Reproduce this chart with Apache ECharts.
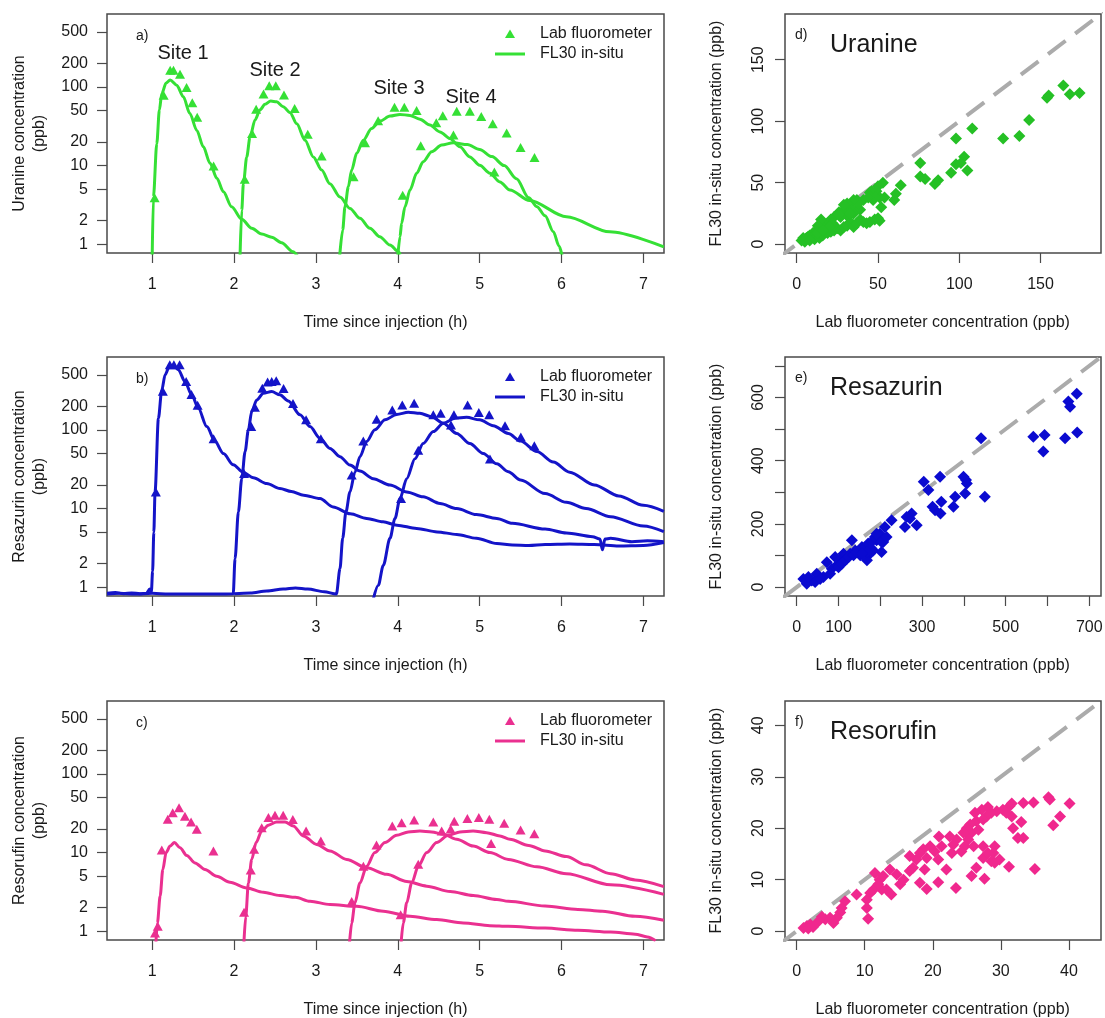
<!DOCTYPE html>
<html><head><meta charset="utf-8">
<script src="https://cdn.jsdelivr.net/npm/echarts/dist/echarts.min.js"></script>
<style>html,body{margin:0;padding:0;background:#fff}#chart{width:1105px;height:1018px}</style>
</head><body><div id="chart"></div>
<script>
const FONT = '"Liberation Sans", Arial, Helvetica, sans-serif';

// ---------- tick values ----------
const timeTicks = [1, 2, 3, 4, 5, 6, 7];
const concTicks = [1, 2, 5, 10, 20, 50, 100, 200, 500];
const dTicks = [0, 50, 100, 150];
const eTicks = [0, 100, 200, 300, 400, 500, 600, 700];
const eXLabels = [0, 100, 300, 500, 700];
const eYLabels = [0, 200, 400, 600];
const fTicks = [0, 10, 20, 30, 40];

// ---------- panel a: Uranine (time h, ppb) ----------
const uranineLab = [[1.03,3.9],[1.14,78],[1.22,163],[1.26,163],[1.34,145],[1.42,98],[1.49,63],[1.55,41],[1.75,9.9],
  [2.13,6.7],[2.22,25.6],[2.27,52],[2.36,81],[2.43,103],[2.51,103],[2.61,79],[2.74,53],[2.90,25],[3.07,13.2],
  [3.46,7.2],[3.60,19.5],[3.76,37],[3.96,55],[4.08,55],[4.23,50],[4.28,17.8],[4.47,35],[4.68,24.4],[5.18,8.3],
  [4.06,4.2],[4.55,43],[4.72,49],[4.88,49],[5.02,42],[5.16,34],[5.33,26],[5.50,17],[5.67,12.7]];
const uranineSite1 = [[1.0,0.7],[1.015,4.0],[1.056,19],[1.088,51],[1.117,82],[1.17,112],[1.219,122],[1.30,105],[1.38,75],[1.46,46],
  [1.545,28],[1.625,17.3],[1.707,10.7],[1.79,6.9],[1.87,4.65],[1.97,3.0],[2.094,2.08],[2.216,1.6],[2.338,1.35],[2.46,1.23],
  [2.58,1.05],[2.72,0.805],[2.78,0.7]];
const uranineSite2 = [[2.073,0.7],[2.094,2.7],[2.114,5.9],[2.155,12.9],[2.195,23],[2.256,38],[2.317,51],[2.378,60],[2.448,66],
  [2.52,64.5],[2.60,56],[2.684,47],[2.766,34],[2.867,21],[2.968,12.9],[3.07,8.8],[3.17,5.9],[3.294,4.0],[3.416,2.86],
  [3.538,2.14],[3.66,1.6],[3.78,1.25],[3.905,0.98],[4.006,0.81],[4.03,0.74]];
const uranineSite3 = [[3.29,0.7],[3.327,1.52],[3.355,3.0],[3.396,5.4],[3.437,8.8],[3.498,14.3],[3.579,21],[3.68,29.6],[3.783,36.7],
  [3.905,42.5],[4.027,44.7],[4.149,43.4],[4.27,38.9],[4.393,32.7],[4.515,26.8],[4.637,22.1],[4.759,17.3],[4.88,12.9],
  [5.0,10.1],[5.126,8.0],[5.248,6.2],[5.37,4.9],[5.61,3.6],[6.06,2.24],[6.59,1.44],[7.25,0.93]];
const uranineSite4 = [[4.0,0.7],[4.027,1.25],[4.047,1.85],[4.088,3.0],[4.149,4.9],[4.231,8.0],[4.31,11.2],[4.414,15],[4.536,18.2],
  [4.678,19.5],[4.85,18.5],[5.0,16],[5.15,13],[5.3,10],[5.45,6.8],[5.6,3.9],[5.7,3.0],[5.8,2.3],[5.9,1.45],[5.97,0.95],[6.01,0.7]];

// ---------- panel b: Resazurin ----------
const resazurinLab = [[1.045,16.2],[1.13,308],[1.215,673],[1.265,673],[1.335,673],[1.415,410],[1.48,282],[1.555,206],[1.75,77],
  [2.122,28],[2.21,110],[2.255,193],[2.345,338],[2.41,404],[2.46,411],[2.515,421],[2.605,335],[2.72,216],[2.88,134],[3.06,77],
  [3.437,26.7],[3.579,72],[3.742,136],[3.933,179],[4.055,207],[4.20,217],[4.434,155],[4.524,162],[4.686,155],[4.65,115],
  [4.853,207],[4.99,166],[5.117,155],[5.31,113],[5.126,42.6],[4.25,55],[4.04,13.4],[5.503,81],[5.668,63]];
const resazurinSite1 = [[0.45,0.84],[0.55,0.86],[0.65,0.83],[0.75,0.85],[0.85,0.83],[0.93,0.84],[0.97,0.95],[0.99,0.88],
  [1.005,1.6],[1.02,5],[1.035,16.3],[1.076,140],[1.117,320],[1.158,500],[1.21,640],[1.26,655],[1.32,580],[1.40,410],
  [1.483,278],[1.564,188],[1.667,110],[1.768,71],[1.87,50],[1.99,36],[2.114,28.8],[2.236,24.6],[2.40,20.8],[2.56,18],
  [2.7,16.5],[2.85,14.8],[3.05,13.4],[3.21,10.5],[3.42,8.6],[3.62,7.5],[3.82,6.8],[3.99,6.15],[4.23,5.6],[4.48,5.06],
  [4.72,4.7],[4.96,4.2],[5.21,3.6],[5.4,3.45],[5.6,3.4],[5.8,3.5],[6.1,3.55],[6.4,3.5],[6.7,3.35],[7.0,3.4],[7.25,3.7]];
const resazurinSite2 = [[0.45,0.82],[0.6,0.84],[0.8,0.82],[1.0,0.84],[1.2,0.82],[1.5,0.82],[1.8,0.82],[1.99,0.83],
  [2.012,2.3],[2.053,9.1],[2.094,24],[2.135,53],[2.175,100],[2.216,171],[2.277,240],[2.358,292],[2.46,306],[2.56,278],
  [2.663,233],[2.806,155],[2.928,110],[3.05,78],[3.172,58],[3.294,45.6],[3.416,35.7],[3.538,30],[3.70,24],[3.905,19.9],
  [4.109,16.3],[4.31,14.1],[4.516,11.6],[4.72,10],[4.96,8.4],[5.21,7.5],[5.4,6.5],[5.8,5.5],[6.06,4.9],[6.38,4.4],
  [6.47,4.1],[6.5,3.0],[6.53,4.1],[6.6,4.2],[6.86,3.8],[7.05,3.9],[7.25,3.8]];
const resazurinSite3 = [[2.0,0.83],[2.2,0.85],[2.4,0.9],[2.6,0.95],[2.75,0.98],[2.9,0.95],[3.1,0.88],[3.25,0.82],
  [3.294,1.73],[3.327,4.2],[3.367,9.1],[3.416,16.3],[3.477,29],[3.538,45.6],[3.62,71],[3.72,100],[3.844,134],[3.986,157],
  [4.128,167],[4.27,162],[4.414,147],[4.556,121],[4.72,90],[4.88,67],[5.044,50],[5.21,37],[5.35,29.4],[5.5,23],
  [5.8,15.5],[6.06,12],[6.3,10],[6.6,7.9],[7.0,6.0],[7.25,5.1]];
const resazurinSite4 = [[3.70,0.7],[3.762,1.06],[3.823,1.9],[3.905,4.2],[3.966,7.5],[4.027,13.4],[4.109,24],[4.21,43],[4.31,67],
  [4.434,95],[4.556,121],[4.70,140],[4.84,144],[5.0,134],[5.166,113],[5.35,90],[5.5,72],[5.7,53],[5.9,39],[6.1,29],
  [6.4,20],[6.7,14.5],[7.0,11],[7.25,9.2]];

// ---------- panel c: Resorufin ----------
const resorufinLab = [[1.035,0.95],[1.068,1.16],[1.117,10.8],[1.19,26.6],[1.251,32],[1.328,37],[1.40,29],[1.475,24.5],[1.545,19.8],
  [1.748,10.5],[2.122,1.75],[2.204,6.0],[2.245,11],[2.338,20.7],[2.42,27.8],[2.50,29.9],[2.60,29.9],[2.718,26.3],[2.88,18.8],
  [3.06,14],[3.58,6.7],[3.74,12.5],[3.437,2.4],[3.933,21.8],[4.047,24],[4.20,26],[4.25,7.1],[4.434,24.5],[4.536,18.8],
  [4.646,20],[4.69,25],[4.85,27],[4.99,27.8],[5.118,26.6],[5.14,13],[5.30,23.6],[5.50,19.4],[5.668,17.3],[4.035,1.63]];
const resorufinSite1 = [[1.045,0.7],[1.064,1.28],[1.097,2.8],[1.13,6.1],[1.17,10],[1.219,12.1],[1.271,13.4],[1.34,11.5],[1.422,9.2],
  [1.523,7.4],[1.645,6.1],[1.788,5.0],[1.95,4.2],[2.155,3.56],[2.358,3.14],[2.56,2.85],[2.75,2.7],[2.928,2.41],[3.172,2.19],
  [3.498,2.08],[3.823,1.8],[4.149,1.55],[4.475,1.41],[4.80,1.28],[5.126,1.18],[5.35,1.16],[5.8,1.1],[6.2,1.03],[6.6,0.98],
  [6.9,0.92],[7.05,0.85],[7.15,0.76]];
const resorufinSite2 = [[2.12,0.7],[2.143,1.55],[2.175,4.1],[2.216,8.2],[2.269,13.4],[2.338,18.8],[2.42,22.3],[2.52,24.5],[2.623,24.5],
  [2.724,21.8],[2.846,16.3],[3.01,12.7],[3.172,10.5],[3.376,8.2],[3.62,6.4],[3.864,5.3],[4.11,4.3],[4.354,3.75],[4.64,3.2],
  [4.922,2.85],[5.21,2.54],[5.35,2.41],[5.8,2.1],[6.2,1.9],[6.5,1.8],[6.9,1.55],[7.25,1.38]];
const resorufinSite3 = [[3.41,0.7],[3.437,1.28],[3.477,2.3],[3.538,4.1],[3.62,6.7],[3.72,10],[3.844,13.4],[3.986,16.6],[4.128,18.3],
  [4.27,18.8],[4.414,18.3],[4.556,17.1],[4.72,14.8],[4.922,12.1],[5.126,10],[5.35,8.2],[5.7,6.6],[6.06,5.4],[6.6,3.9],[7.25,2.95]];
const resorufinSite4 = [[4.04,0.7],[4.067,1.28],[4.109,2.3],[4.17,4.1],[4.25,6.7],[4.354,10],[4.475,13.4],[4.617,16.6],[4.76,18.3],
  [4.92,18.8],[5.085,17.9],[5.248,16.3],[5.37,14.8],[5.6,12.3],[5.8,10.5],[6.06,8.9],[6.3,7],[6.6,5.4],[6.9,4.5],[7.25,3.7]];

// ---------- scatter panels: [lab, FL30] ----------
const uranineCompare = [[164,129],[155,121],[154,119],[168,122],[174,123],[143,101],[137,88],[127,86],[108,94],[98,86],[103,71],
  [105,60],[98,65],[101,66],[95,58],[76,66],[76,55],[79,53],[85,49],[87,52],[64,48],[61,41],[60,36],[53,50],[54,38],[50,47],
  [52,30],[51,19],[45,18],[45,42],[47,36],[41,36],[39,28],[37,29],[35,25],[33,30],[31,23],[29,28],[27,22],[26,26],[23,22],
  [21,20],[19,17],[16,14],[15,20],[13,15],[12,11],[10,9],[8,7],[6,5],[5,2],[7,6],[9,5],[11,4],[14,5],[16,7],[19,9],[21,10],
  [23,11],[25,13],[27,11],[29,14],[31,15],[33,18],[35,14],[37,17],[39,20],[41,18],[43,17],[48,20],[50,21],[33,25],[37,36],
  [38,33],[35,36],[31,33],[29,32],[26,24],[22,17],[20,14],[4,5],[3,3],[8,3],[13,9],[16,11],[46,43],[49,43],[51,38],[48,38],[44,38]];
const resazurinCompare = [[670,612],[650,587],[654,571],[671,489],[642,471],[593,481],[590,429],[566,476],[441,471],[450,286],
  [405,339],[399,349],[407,328],[403,296],[379,286],[375,254],[346,270],[344,233],[331,243],[325,254],[315,307],[304,333],
  [343,349],[275,233],[287,196],[271,217],[259,190],[263,222],[227,212],[211,190],[199,169],[207,143],[203,111],[191,148],
  [183,116],[175,106],[168,85],[159,116],[152,101],[140,116],[132,148],[128,106],[120,90],[112,106],[104,85],[96,69],[92,95],
  [84,58],[72,79],[64,32],[48,42],[36,21],[24,11],[16,26],[28,32],[44,16],[56,26],[80,42],[100,63],[108,74],[116,85],[124,95],
  [136,101],[144,111],[156,127],[164,127],[171,138],[179,143],[187,159],[195,159],[203,143],[215,159],[191,169],[179,122],
  [168,111],[156,106]];
const resorufinCompare = [[40.1,24.8],[38.7,22.3],[37.7,20.6],[37,26],[37.2,25.6],[34.8,25],[33.3,24.9],[35,12.1],[31.2,12.5],
  [33.3,18.1],[32.5,18.1],[33,21.2],[31.6,22.3],[31.8,20],[31.3,24.3],[31.6,24.8],[30.3,23.6],[29.4,23.3],[28.6,23],[28.1,24.1],
  [27.9,22.3],[27.2,23.6],[26.2,23],[26.4,21.4],[25.5,20.7],[25,20],[25,19.1],[25.7,19.1],[25.2,17.8],[27.4,16.5],[29.1,16.5],
  [28.9,15.2],[28.6,13.6],[29.1,13.3],[27.4,14.2],[27.6,10.2],[26.4,12.3],[25.7,10.7],[24.5,19.1],[24.7,16.5],[24.2,15.5],
  [23.5,17.8],[22.5,18.4],[23,16.8],[22.8,15.2],[23.4,8.4],[22,12],[20.9,18.4],[21.3,16.5],[20.3,15.5],[20.8,13.9],[19.6,16.5],
  [18.6,15.9],[18.1,15.2],[19.1,14.2],[17.6,13.9],[18.8,12],[20.8,9.5],[19.1,8.2],[18.1,9.4],[17.1,12.3],[16.6,11.7],[15.2,9.1],
  [14.7,11],[13.7,12],[13.9,7.1],[13.2,8.1],[12.7,10.7],[12.2,10],[11.5,11.3],[11.3,8.1],[10.8,7.4],[10.3,6.1],[10.3,4.5],
  [10.5,2.4],[8.8,7.1],[7.1,5.8],[6.6,4.5],[6.4,3.6],[5.9,2.6],[5.4,1.6],[4.9,2.6],[4.2,2.3],[3.7,2.8],[3.2,1.9],[2,1.3],
  [1.5,1],[1,0.6],[1.7,0.5],[2.4,0.8],[12.5,8.1],[12,9.1],[15.7,10],[16.6,14.6],[26,16.5],[26.7,19.7],[27.4,21.7],[30.8,23],
  [28.1,15.2],[29.8,13.9]];

// ---------- layout / styles ----------
const GREEN = '#35e035', GREEN_PT = '#25c025';
const BLUE = '#1414c8', BLUE_PT = '#0a0ad0';
const PINK = '#ea3090', PINK_PT = '#f0288e';
const TXT = '#1a1a1a', BOX = '#4a4a4a';
const tops = [14, 357, 701];
const H = 239;
const LEFT_L = 107, LEFT_W = 557, RIGHT_L = 785, RIGHT_W = 316;
const logRange = [-0.11, 2.925];
const timeRange = [0.448, 7.252];
const dRange = [-7.2, 187.2], eRange = [-28, 728], fRange = [-1.72, 44.72];

const log10 = v => Math.log10(v);
const toLog = arr => arr.map(p => [p[0], log10(p[1])]);

const grids = [], xAxes = [], yAxes = [], series = [];
function addGrid(left, top, width) {
  grids.push({left, top, width, height: H, show: true, borderColor: BOX, borderWidth: 1.5,
    backgroundColor: 'transparent', containLabel: false, outerBoundsMode: 'none'});
  return grids.length - 1;
}
function axisBase(gi, range, ticks, labels) {
  return {
    gridIndex: gi, type: 'value', min: range[0], max: range[1],
    axisLine: {show: false, onZero: false},
    axisTick: {show: true, inside: false, length: 10, customValues: ticks, lineStyle: {color: BOX, width: 1.2}},
    axisLabel: {show: true, customValues: labels, color: TXT, fontSize: 16, fontFamily: FONT},
    splitLine: {show: false}
  };
}

// left panels
const leftPanels = [
  {lab: uranineLab, sites: [uranineSite1, uranineSite2, uranineSite3, uranineSite4], color: GREEN},
  {lab: resazurinLab, sites: [resazurinSite1, resazurinSite2, resazurinSite3, resazurinSite4], color: BLUE},
  {lab: resorufinLab, sites: [resorufinSite1, resorufinSite2, resorufinSite3, resorufinSite4], color: PINK}
];
const concLogTicks = concTicks.map(log10);
leftPanels.forEach((p, i) => {
  const gi = addGrid(LEFT_L, tops[i], LEFT_W);
  const xa = axisBase(gi, timeRange, timeTicks, timeTicks);
  xa.axisLabel.margin = 24;
  xAxes.push(xa);
  const ya = axisBase(gi, logRange, concLogTicks, concLogTicks);
  ya.axisLabel.margin = 19;
  ya.axisLabel.formatter = v => String(Math.round(Math.pow(10, v)));
  yAxes.push(ya);
  p.sites.forEach((s) => {
    series.push({type: 'line', name: 'FL30 in-situ', xAxisIndex: gi, yAxisIndex: gi, data: toLog(s),
      showSymbol: false, symbol: 'none', smooth: 0.3, smoothMonotone: 'x', clip: true,
      lineStyle: {color: p.color, width: 3}, itemStyle: {color: p.color}, z: 2, silent: true});
  });
  series.push({type: 'scatter', name: 'Lab fluorometer', xAxisIndex: gi, yAxisIndex: gi, data: toLog(p.lab),
    symbol: 'triangle', symbolSize: [10, 9], itemStyle: {color: p.color, opacity: 1}, z: 3, silent: true});
});

// right panels
const rightPanels = [
  {data: uranineCompare, range: dRange, xt: dTicks, xl: dTicks, yt: dTicks, yl: dTicks, color: GREEN_PT},
  {data: resazurinCompare, range: eRange, xt: eTicks, xl: eXLabels, yt: eTicks, yl: eYLabels, color: BLUE_PT},
  {data: resorufinCompare, range: fRange, xt: fTicks, xl: fTicks, yt: fTicks, yl: fTicks, color: PINK_PT}
];
rightPanels.forEach((p, i) => {
  const gi = addGrid(RIGHT_L, tops[i], RIGHT_W);
  const xa = axisBase(gi, p.range, p.xt, p.xl);
  xa.axisLabel.margin = 24;
  xAxes.push(xa);
  const ya = axisBase(gi, p.range, p.yt, p.yl);
  ya.axisLabel.rotate = 90;
  ya.axisLabel.margin = 18;
  yAxes.push(ya);
  const lo = p.range[0] - 5, hi = p.range[1] + 5;
  series.push({type: 'line', name: '1:1', xAxisIndex: gi, yAxisIndex: gi, data: [[lo, lo], [hi, hi]],
    showSymbol: false, symbol: 'none', clip: true,
    lineStyle: {color: '#ababab', width: 4, type: [22, 12]}, z: 1, silent: true});
  series.push({type: 'scatter', name: 'comparison', xAxisIndex: gi, yAxisIndex: gi, data: p.data,
    symbol: 'diamond', symbolSize: 12, itemStyle: {color: p.color, opacity: 1}, z: 3, silent: true});
});

// ---------- text & legends ----------
function txt(x, y, text, size, align, rot, extra) {
  return {type: 'text', x, y, rotation: rot || 0, silent: true, z: 10,
    style: Object.assign({text, font: size + 'px ' + FONT, fill: TXT,
      textAlign: align || 'center', textVerticalAlign: 'middle',
      align: align || 'center', verticalAlign: 'middle'}, extra || {})};
}
const graphics = [];
const leftTitles = ['Uranine concentration\n(ppb)', 'Resazurin concentration\n(ppb)', 'Resorufin concentration\n(ppb)'];
const panelLetters = ['a)', 'b)', 'c)'];
const rightLetters = ['d)', 'e)', 'f)'];
const tracerNames = ['Uranine', 'Resazurin', 'Resorufin'];
const legendColors = [GREEN, BLUE, PINK];
tops.forEach((t, i) => {
  const mid = t + H / 2, bot = t + H;
  graphics.push(txt(29.5, mid, leftTitles[i], 16, 'center', Math.PI / 2, {lineHeight: 19.5}));
  graphics.push(txt(385.5, bot + 70, 'Time since injection (h)', 16));
  graphics.push(txt(136, t + 22, panelLetters[i], 14, 'left'));
  // legend
  const c = legendColors[i], ly1 = t + 20, ly2 = t + 40;
  graphics.push({type: 'polygon', silent: true, z: 10, shape: {points: [[510, ly1 - 4.5], [515, ly1 + 4], [505, ly1 + 4]]}, style: {fill: c}});
  graphics.push(txt(540, ly1, 'Lab fluorometer', 16, 'left'));
  graphics.push({type: 'line', silent: true, z: 10, shape: {x1: 495, y1: ly2, x2: 525, y2: ly2}, style: {stroke: c, lineWidth: 3}});
  graphics.push(txt(540, ly2, 'FL30 in-situ', 16, 'left'));
  // right panels
  graphics.push(txt(716.7, mid, 'FL30 in-situ concentration (ppb)', 16, 'center', Math.PI / 2));
  graphics.push(txt(942.7, bot + 70, 'Lab fluorometer concentration (ppb)', 16));
  graphics.push(txt(795, t + 21.5, rightLetters[i], 14, 'left'));
  graphics.push(txt(830, t + 31, tracerNames[i], 25, 'left'));
});
const siteLabels = [['Site 1', 183, 53], ['Site 2', 275, 70], ['Site 3', 399, 88], ['Site 4', 471, 97]];
siteLabels.forEach(s => graphics.push(txt(s[1], s[2], s[0], 20)));

const chart = echarts.init(document.getElementById('chart'), null, {renderer: 'canvas'});
chart.setOption({
  backgroundColor: '#ffffff',
  animation: false,
  textStyle: {fontFamily: FONT},
  grid: grids, xAxis: xAxes, yAxis: yAxes, series,
  graphic: graphics
});
</script></body></html>
